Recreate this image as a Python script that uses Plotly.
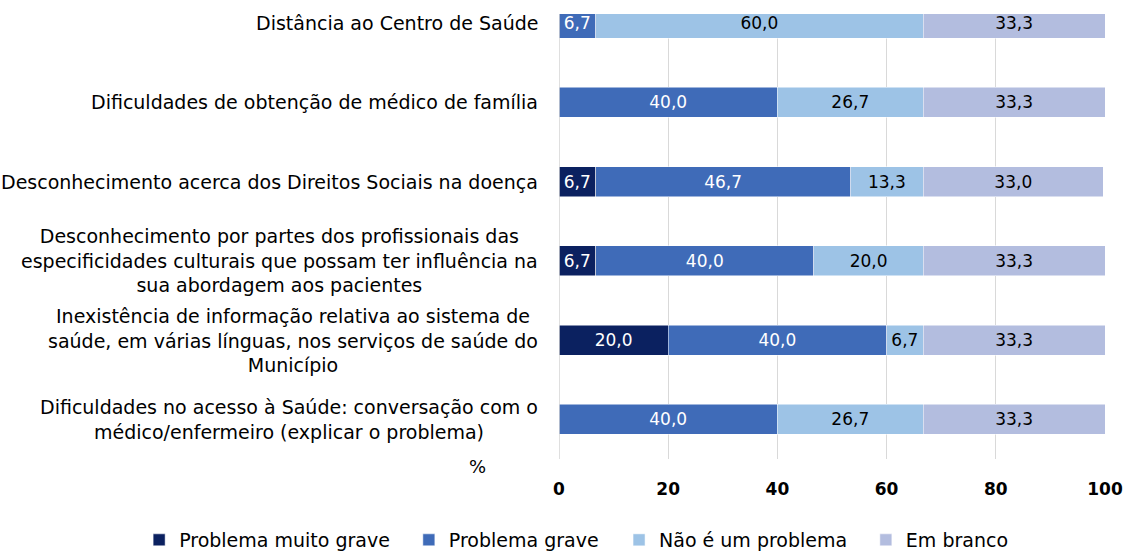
import plotly.graph_objects as go

categories = [
    "Distância ao Centro de Saúde",
    "Dificuldades de obtenção de médico de família",
    "Desconhecimento acerca dos Direitos Sociais na doença",
    "Desconhecimento por partes dos profissionais das<br>especificidades culturais que possam ter influência na<br>sua abordagem aos pacientes",
    "Inexistência de informação relativa ao sistema de<br>saúde, em várias línguas, nos serviços de saúde do<br>Município",
    "Dificuldades no acesso à Saúde: conversação com o<br>médico/enfermeiro (explicar o problema)",
]
series_names = ["Problema muito grave", "Problema grave", "Não é um problema", "Em branco"]
muito_grave = [0, 0, 6.7, 6.7, 20.0, 0]
grave = [6.7, 40.0, 46.7, 40.0, 40.0, 40.0]
nao_problema = [60.0, 26.7, 13.3, 20.0, 6.7, 26.7]
em_branco = [33.3, 33.3, 33.0, 33.3, 33.3, 33.3]
x_ticks = [0, 20, 40, 60, 80, 100]

colors = ["#0b2160", "#3f6bb8", "#9dc3e6", "#b3bddf"]
text_colors = ["white", "white", "black", "black"]
legend_ids = ["legend", "legend2", "legend3", "legend4"]
legend_x = [-0.769, -0.275, 0.110, 0.562]
FONT = "DejaVu Sans"

fig = go.Figure()
for name, vals, col, tcol, lid in zip(series_names, [muito_grave, grave, nao_problema, em_branco],
                                      colors, text_colors, legend_ids):
    fig.add_trace(go.Bar(
        y=list(range(len(categories))), x=vals, name=name, orientation="h",
        marker=dict(color=col, line=dict(color="white", width=0.5)),
        text=["" if v == 0 else f"{v:.1f}".replace(".", ",") for v in vals],
        textposition="inside", insidetextanchor="middle",
        textfont=dict(color=tcol, size=17, family=FONT),
        constraintext="none",
        legend=lid, showlegend=True,
    ))

for i, c in enumerate(categories):
    fig.add_annotation(x=-0.035, xref="paper", y=i, yref="y", text=c, showarrow=False,
                       xanchor="right", yanchor="middle", align="center",
                       font=dict(size=19, family=FONT, color="black"))

fig.add_annotation(x=-0.150, xref="paper", y=-0.016, yref="paper", text="%", showarrow=False,
                   xanchor="center", yanchor="middle", font=dict(size=18, family=FONT, color="black"))

legend_common = dict(orientation="h", xanchor="left", y=-0.182, yanchor="middle",
                     font=dict(size=19, family=FONT, color="black"),
                     bgcolor="rgba(0,0,0,0)", itemwidth=30)

fig.update_layout(
    barmode="stack", bargap=0.62,
    width=1133, height=551,
    showlegend=True,
    margin=dict(l=559, r=28, t=14, b=92, autoexpand=False),
    plot_bgcolor="white", paper_bgcolor="white",
    font=dict(family=FONT, color="black"),
    xaxis=dict(range=[0, 100], tickvals=x_ticks, showgrid=True, gridcolor="#d9d9d9", gridwidth=1,
               zeroline=False, showline=False, ticks="", ticklabelstandoff=18,
               tickfont=dict(size=17, family=FONT, color="black", weight="bold")),
    yaxis=dict(range=[5.5, -0.114], showticklabels=False, showgrid=False, zeroline=False,
               showline=False, ticks=""),
    uniformtext=dict(minsize=14, mode="show"),
)
for lid, lx in zip(legend_ids, legend_x):
    fig.update_layout({lid: dict(x=lx, **legend_common)})

fig.add_shape(type="line", xref="x", yref="paper", x0=0, x1=0, y0=0, y1=1,
              line=dict(color="#bfbfbf", width=1))

fig.write_html("out.html", config={"displayModeBar": False},
               post_script="document.body.style.margin='0';")
